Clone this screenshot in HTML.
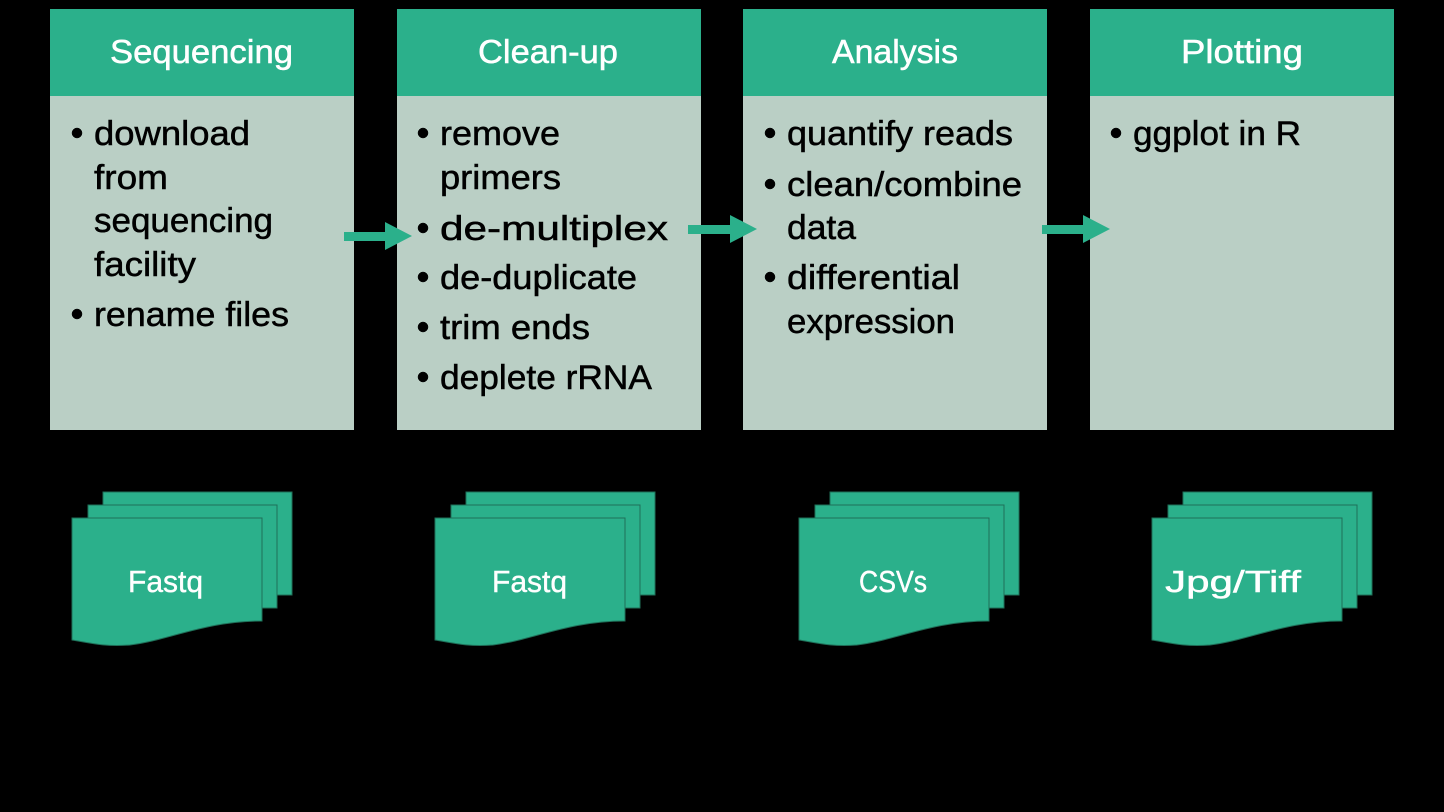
<!DOCTYPE html>
<html><head><meta charset="utf-8"><style>
html,body{margin:0;padding:0;background:#000;}
svg{display:block}
text{font-family:"Liberation Sans",sans-serif;}
</style></head><body>
<svg width="1444" height="812" viewBox="0 0 1444 812" xmlns="http://www.w3.org/2000/svg">
<rect width="1444" height="812" fill="#000"/>
<defs>
<g id="doc">
<rect x="103" y="492" width="189" height="103" fill="#2bb08b" stroke="#1f6f58" stroke-width="1"/>
<rect x="88" y="505" width="189" height="103" fill="#2bb08b" stroke="#1f6f58" stroke-width="1"/>
<path d="M72,518 H262 V621 C205,621 170,640 130,645 C105,647 90,643 72,640 Z" fill="#2bb08b" stroke="#1f6f58" stroke-width="1"/>
</g>
</defs>
<g fill="#bacfc5">
<rect x="50" y="96" width="304" height="334"/>
<rect x="397" y="96" width="304" height="334"/>
<rect x="743" y="96" width="304" height="334"/>
<rect x="1090" y="96" width="304" height="334"/>
</g>
<g fill="#2bb08b">
<rect x="50" y="9" width="304" height="87"/>
<rect x="397" y="9" width="304" height="87"/>
<rect x="743" y="9" width="304" height="87"/>
<rect x="1090" y="9" width="304" height="87"/>
</g>
<g fill="#fff" stroke="#fff" stroke-width="0.5" font-size="33">
<text x="110" y="63" textLength="183" lengthAdjust="spacingAndGlyphs">Sequencing</text>
<text x="478" y="63" textLength="140" lengthAdjust="spacingAndGlyphs">Clean-up</text>
<text x="832" y="63" textLength="126" lengthAdjust="spacingAndGlyphs">Analysis</text>
<text x="1181" y="63" textLength="122" lengthAdjust="spacingAndGlyphs">Plotting</text>
</g>
<g fill="#000" stroke="#000" stroke-width="0.5" font-size="34">
<circle cx="77" cy="133" r="5"/><circle cx="77" cy="314" r="5"/>
<text x="94" y="145" textLength="156" lengthAdjust="spacingAndGlyphs">download</text>
<text x="94" y="189" textLength="74" lengthAdjust="spacingAndGlyphs">from</text>
<text x="94" y="232" textLength="179" lengthAdjust="spacingAndGlyphs">sequencing</text>
<text x="94" y="276" textLength="102" lengthAdjust="spacingAndGlyphs">facility</text>
<text x="94" y="326" textLength="195" lengthAdjust="spacingAndGlyphs">rename files</text>

<circle cx="423" cy="133" r="5"/><circle cx="423" cy="228" r="5"/><circle cx="423" cy="277" r="5"/><circle cx="423" cy="327" r="5"/><circle cx="423" cy="377" r="5"/>
<text x="440" y="145" textLength="120" lengthAdjust="spacingAndGlyphs">remove</text>
<text x="440" y="189" textLength="121" lengthAdjust="spacingAndGlyphs">primers</text>
<text x="440" y="240" textLength="228" lengthAdjust="spacingAndGlyphs">de-multiplex</text>
<text x="440" y="289" textLength="197" lengthAdjust="spacingAndGlyphs">de-duplicate</text>
<text x="440" y="339" textLength="150" lengthAdjust="spacingAndGlyphs">trim ends</text>
<text x="440" y="389" textLength="212" lengthAdjust="spacingAndGlyphs">deplete rRNA</text>

<circle cx="770" cy="133" r="5"/><circle cx="770" cy="184" r="5"/><circle cx="770" cy="277" r="5"/>
<text x="787" y="145" textLength="226" lengthAdjust="spacingAndGlyphs">quantify reads</text>
<text x="787" y="196" textLength="235" lengthAdjust="spacingAndGlyphs">clean/combine</text>
<text x="787" y="239" textLength="69" lengthAdjust="spacingAndGlyphs">data</text>
<text x="787" y="289" textLength="173" lengthAdjust="spacingAndGlyphs">differential</text>
<text x="787" y="333" textLength="168" lengthAdjust="spacingAndGlyphs">expression</text>

<circle cx="1116" cy="133" r="5"/>
<text x="1133" y="145" textLength="168" lengthAdjust="spacingAndGlyphs">ggplot in R</text>
</g>
<g fill="#2bb08b">
<path d="M344,232 H385 V222 L412,236 L385,250 V241 H344 Z"/>
<path d="M688,225 H730 V215 L757,229 L730,243 V234 H688 Z"/>
<path d="M1042,225 H1083 V215 L1110,229 L1083,243 V234 H1042 Z"/>
</g>
<use href="#doc"/>
<use href="#doc" transform="translate(363,0)"/>
<use href="#doc" transform="translate(727,0)"/>
<use href="#doc" transform="translate(1080,0)"/>
<g fill="#fff" stroke="#fff" stroke-width="0.4" font-size="31">
<text x="128" y="592" textLength="75" lengthAdjust="spacingAndGlyphs">Fastq</text>
<text x="492" y="592" textLength="75" lengthAdjust="spacingAndGlyphs">Fastq</text>
<text x="859" y="592" textLength="68" lengthAdjust="spacingAndGlyphs">CSVs</text>
<text x="1165" y="592" textLength="136" lengthAdjust="spacingAndGlyphs">Jpg/Tiff</text>
</g>
</svg>
</body></html>
